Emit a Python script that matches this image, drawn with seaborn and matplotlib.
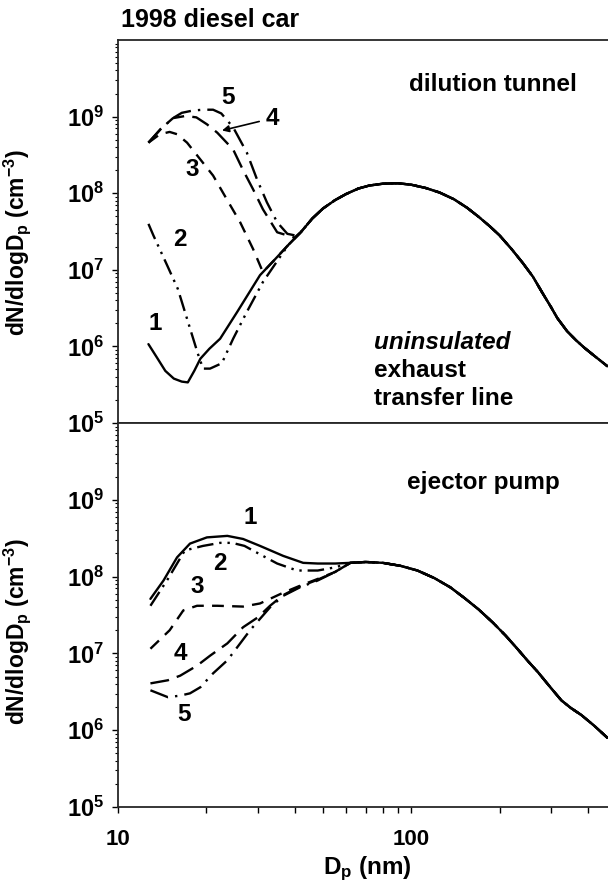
import matplotlib
matplotlib.use("Agg")
import matplotlib.pyplot as plt
import numpy as np
import pandas as pd
import seaborn as sns
from matplotlib.ticker import LogLocator, NullFormatter, FixedLocator

# ---------------- data ----------------
# shared accumulation mode (all curves overlap here)
tail_top_D = [42, 46, 50, 55, 60, 66, 72, 80, 90, 100, 112, 125, 140, 155, 170, 185, 200,
              220, 240, 260, 280, 300, 315, 340, 365, 390, 420, 467]
tail_top_N = [3.09e7, 4.68e7, 6.31e7, 8.13e7, 9.77e7, 1.15e8, 1.26e8, 1.33e8, 1.35e8, 1.29e8,
              1.17e8, 1.02e8, 8.32e7, 6.46e7, 4.90e7, 3.72e7, 2.82e7, 1.86e7, 1.23e7, 8.13e6,
              5.01e6, 3.24e6, 2.34e6, 1.58e6, 1.20e6, 9.55e5, 7.59e5, 5.50e5]

top1_D = [12.7, 13.6, 14.5, 15.5, 16.5, 17.3, 18.2, 19.1, 20.5, 22.3, 25.5, 30.5, 34, 38]
top1_N = [1.07e6, 7.08e5, 4.79e5, 3.80e5, 3.47e5, 3.39e5, 4.79e5, 6.92e5, 9.33e5, 1.26e6,
          2.82e6, 8.51e6, 1.32e7, 2.09e7]
top2_D = [12.7, 13.2, 14.7, 16.0, 17.2, 18.7, 19.5, 20.6, 22.6, 24.7, 27.5, 31.2, 35, 38]
top2_N = [3.98e7, 2.82e7, 1.15e7, 5.62e6, 2.29e6, 8.13e5, 5.13e5, 5.13e5, 6.03e5, 1.26e6,
          2.82e6, 6.92e6, 1.32e7, 2.09e7]
top3_D = [12.7, 13.9, 15.0, 15.9, 17.2, 19.1, 21.1, 23.5, 26.1, 28.9, 31.2, 34, 38]
top3_N = [4.57e8, 5.89e8, 6.31e8, 5.89e8, 4.57e8, 2.75e8, 1.70e8, 8.32e7, 4.17e7, 1.86e7,
          9.33e6, 1.32e7, 2.09e7]
top4_D = [12.7, 14.0, 15.4, 17.0, 18.5, 20.1, 21.8, 24.7, 26.7, 28.9, 31.2, 34.9, 40]
top4_N = [4.57e8, 6.92e8, 9.55e8, 1.02e9, 9.77e8, 7.94e8, 6.17e8, 3.72e8, 2.00e8, 1.12e8,
          6.17e7, 3.09e7, 2.63e7]
top5_D = [12.7, 14.0, 15.4, 16.5, 18.0, 19.5, 21.1, 22.5, 24.7, 27.5, 29.8, 32.2, 34.9, 37.8, 40]
top5_N = [4.57e8, 6.92e8, 9.55e8, 1.12e9, 1.20e9, 1.23e9, 1.23e9, 1.10e9, 7.24e8, 3.39e8,
          1.51e8, 7.59e7, 4.17e7, 2.95e7, 2.82e7]

tail_bot_D = [62, 70, 80, 92, 105, 120, 136, 152, 170, 190, 210, 230, 250, 270, 298, 325,
              350, 380, 420, 467]
tail_bot_N = [1.51e8, 1.55e8, 1.51e8, 1.38e8, 1.20e8, 9.55e7, 7.24e7, 5.25e7, 3.72e7, 2.51e7,
              1.70e7, 1.15e7, 7.94e6, 5.75e6, 3.63e6, 2.45e6, 1.95e6, 1.58e6, 1.15e6, 7.94e5]

bot1_D = [12.9, 14.3, 15.9, 17.6, 20.1, 23.6, 26.7, 30.5, 36.6, 42.8, 48, 55]
bot1_N = [5.13e7, 8.91e7, 1.78e8, 2.69e8, 3.24e8, 3.39e8, 3.09e8, 2.51e8, 1.86e8, 1.51e8, 1.48e8, 1.48e8]
bot2_D = [12.9, 14.8, 16.9, 19.5, 22.3, 24.5, 27, 31.2, 34.9, 40.8, 48, 55]
bot2_N = [4.17e7, 9.33e7, 2.19e8, 2.51e8, 2.75e8, 2.75e8, 2.51e8, 1.86e8, 1.48e8, 1.20e8, 1.20e8, 1.32e8]
bot3_D = [12.9, 15.0, 16.7, 18.6, 21.8, 26.7, 30.5, 36.6, 41.7, 48, 55]
bot3_N = [1.15e7, 2.00e7, 3.63e7, 4.17e7, 4.17e7, 4.07e7, 4.47e7, 6.17e7, 7.59e7, 9.33e7, 1.15e8]
bot4_D = [12.9, 14.8, 16.3, 18.6, 20.6, 23.6, 26.7, 30, 33, 36.6, 41.7, 48, 55]
bot4_N = [4.07e6, 4.47e6, 5.13e6, 6.92e6, 9.33e6, 1.35e7, 2.19e7, 2.95e7, 4.17e7, 5.75e7,
          7.41e7, 9.12e7, 1.15e8]
bot5_D = [12.9, 14.8, 16.3, 17.6, 19.1, 21.1, 23.6, 26.1, 28.2, 30.5, 33, 36.6, 41.7, 48, 55]
bot5_N = [3.31e6, 2.69e6, 2.82e6, 3.02e6, 3.63e6, 5.50e6, 8.13e6, 1.35e7, 2.00e7, 2.82e7,
          3.98e7, 5.62e7, 7.24e7, 8.91e7, 1.15e8]

curve_names = ["1", "2", "3", "4", "5"]
ytick_vals = [1e5, 1e6, 1e7, 1e8, 1e9]
ytick_labels = ["$10^5$", "$10^6$", "$10^7$", "$10^8$", "$10^9$"]

# ---------------- style ----------------
sns.set_theme(style="ticks")
plt.rcParams.update({
    "font.family": ["Liberation Sans", "DejaVu Sans"],
    "font.weight": "bold",
    "mathtext.fontset": "custom",
    "mathtext.rm": "Liberation Sans:bold",
    "mathtext.it": "Liberation Sans:italic:bold",
    "mathtext.bf": "Liberation Sans:bold",
    "mathtext.default": "rm",
    "axes.linewidth": 1.3,
    "text.color": "black",
    "axes.labelcolor": "black",
    "xtick.color": "black",
    "ytick.color": "black",
})

dash_map = {
    "1": "",
    "2": (7, 2.5, 1, 2.5, 1, 2.5),
    "3": (5, 3.5),
    "4": (8, 3.5),
    "5": (8, 3, 1, 3),
}


def build(parts, tail_D, tail_N):
    rows = []
    for name, (d, n) in zip(curve_names, parts):
        for x, y in zip(list(d) + list(tail_D), list(n) + list(tail_N)):
            rows.append((name, x, y))
    return pd.DataFrame(rows, columns=["curve", "D", "N"])


df_top = build([(top1_D, top1_N), (top2_D, top2_N), (top3_D, top3_N),
                (top4_D, top4_N), (top5_D, top5_N)], tail_top_D, tail_top_N)
df_bot = build([(bot1_D, bot1_N), (bot2_D, bot2_N), (bot3_D, bot3_N),
                (bot4_D, bot4_N), (bot5_D, bot5_N)], tail_bot_D, tail_bot_N)

W, H = 608, 886
fig = plt.figure(figsize=(W / 100, H / 100), dpi=100)
left = 118 / W
width = 489.5 / W
ax_top = fig.add_axes([left, 1 - 423 / H, width, 383 / H])
ax_bot = fig.add_axes([left, 1 - 807 / H, width, 384 / H])

FS = 16
FA = 17.5
for ax, df in ((ax_top, df_top), (ax_bot, df_bot)):
    ax.set_xscale("log")
    ax.set_yscale("log")
    sns.lineplot(data=df, x="D", y="N", style="curve", dashes=dash_map, color="black",
                 linewidth=1.7, estimator=None, sort=False, legend=False, ax=ax)
    ax.set_xlim(10, 467)
    ax.set_ylim(1e5, 1e10)
    ax.spines["right"].set_visible(False)
    ax.set_yticks(ytick_vals)
    ax.set_yticklabels(ytick_labels, fontsize=FS + 1, fontweight="bold")
    ax.yaxis.set_minor_locator(LogLocator(base=10, subs=np.arange(2, 10), numticks=20))
    ax.yaxis.set_minor_formatter(NullFormatter())
    ax.xaxis.set_major_locator(FixedLocator([10, 100]))
    ax.xaxis.set_minor_locator(LogLocator(base=10, subs=np.arange(2, 10), numticks=20))
    ax.xaxis.set_minor_formatter(NullFormatter())
    ax.tick_params(axis="y", which="major", direction="out", length=4, width=1.0, pad=6)
    ax.tick_params(axis="y", which="minor", direction="out", length=2.5, width=0.8)
    ax.tick_params(axis="x", which="major", direction="out", length=4, width=1.0, pad=12)
    ax.tick_params(axis="x", which="minor", direction="out", length=4, width=1.0)
    ax.set_ylabel("dN/dlogD$_\\mathregular{p}$ (cm$^{-3}$)", fontsize=16.5, fontweight="bold")
    ax.set_xlabel("")

ax_top.yaxis.set_label_coords(-0.174, 0.47)
ax_bot.yaxis.set_label_coords(-0.174, 0.456)
ax_top.set_xticklabels([])
ax_bot.set_xticklabels(["10", "100"], fontsize=FS, fontweight="bold")
ax_bot.set_xlabel("D$_\\mathregular{p}$ (nm)", fontsize=17.5, fontweight="bold")
ax_bot.xaxis.set_label_coords(0.51, -0.124)

fig.text(121 / W, 1 - 20 / H, "1998 diesel car", fontsize=18, fontweight="bold",
         ha="left", va="center")

# annotations top panel
tk = dict(fontsize=FA, fontweight="bold", transform=ax_top.transAxes, va="center")
ax_top.text(0.595, 0.883, "dilution tunnel", ha="left", **tk)
ax_top.text(0.524, 0.211, "uninsulated", ha="left", style="italic", **tk)
ax_top.text(0.524, 0.138, "exhaust", ha="left", **tk)
ax_top.text(0.524, 0.065, "transfer line", ha="left", **tk)
for lab, (xf, yf) in zip(curve_names, [(0.076, 0.261), (0.127, 0.478), (0.151, 0.661),
                                       (0.315, 0.796), (0.225, 0.849)]):
    ax_top.text(xf, yf, lab, ha="center", **tk)
ax_top.annotate("", xy=(0.207, 0.762), xytext=(0.294, 0.789), xycoords="axes fraction",
                textcoords="axes fraction",
                arrowprops=dict(arrowstyle="-|>", lw=1.2, color="black", mutation_scale=10))

bk = dict(fontsize=FA, fontweight="bold", transform=ax_bot.transAxes, va="center")
ax_bot.text(0.591, 0.844, "ejector pump", ha="left", **bk)
for lab, (xf, yf) in zip(curve_names, [(0.270, 0.755), (0.209, 0.635), (0.162, 0.573),
                                       (0.127, 0.401), (0.135, 0.240)]):
    ax_bot.text(xf, yf, lab, ha="center", **bk)

fig.savefig("out.png", dpi=100)
